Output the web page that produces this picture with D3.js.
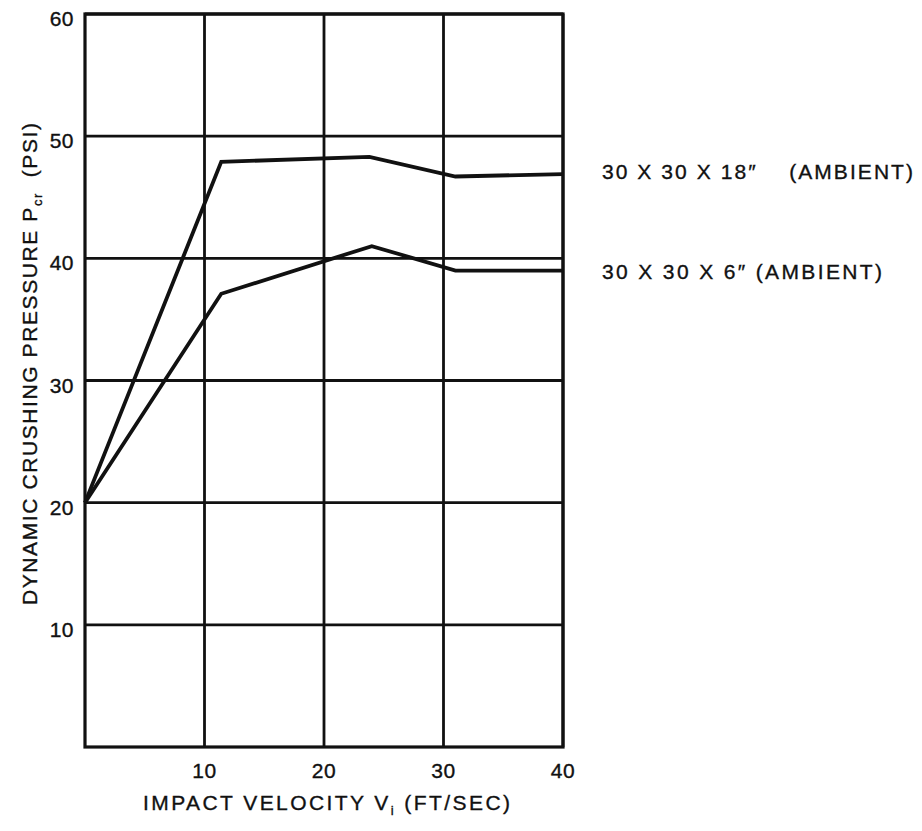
<!DOCTYPE html>
<html>
<head>
<meta charset="utf-8">
<script src="https://cdn.jsdelivr.net/npm/d3@7"></script>
<style>
  body { margin: 0; background: #fff; }
  svg text { font-family: "Liberation Sans", Arial, sans-serif; fill: #111; stroke: #111; stroke-width: 0.35px; white-space: pre; }
</style>
</head>
<body>
<div id="chart"></div>
<script>
// ============================================================
// Data
// ============================================================
const xTicks = [10, 20, 30, 40];
const yTicks = [10, 20, 30, 40, 50, 60];

const velocity18 = [0, 11.4, 23.8, 31, 40];
const pressure18 = [20, 47.9, 48.3, 46.7, 46.9];

const velocity6 = [0, 11.4, 24, 31, 40];
const pressure6 = [20, 37.1, 41.0, 39.0, 39.0];

const seriesLabels = ['30 X 30 X 18\u2033    (AMBIENT)', '30 X 30 X 6\u2033 (AMBIENT)'];
const labelWidths = [311, 280];

// ============================================================
// Layout
// ============================================================
const W = 922, H = 831;
const margin = { left: 85, top: 14, right: 359, bottom: 84 };
const innerW = W - margin.left - margin.right;
const innerH = H - margin.top - margin.bottom;

const svg = d3.select('#chart').append('svg')
    .attr('width', W).attr('height', H);
const g = svg.append('g')
    .attr('transform', `translate(${margin.left}, ${margin.top})`);

const x = d3.scaleLinear().domain([0, 40]).range([0, innerW]);
const y = d3.scaleLinear().domain([0, 60]).range([innerH, 0]);

// Grid lines
g.append('g')
    .selectAll('line')
    .data(xTicks)
    .join('line')
    .attr('x1', d => x(d)).attr('x2', d => x(d))
    .attr('y1', 0).attr('y2', innerH)
    .attr('stroke', '#111').attr('stroke-width', 2.8);

g.append('g')
    .selectAll('line')
    .data(yTicks)
    .join('line')
    .attr('x1', 0).attr('x2', innerW)
    .attr('y1', d => y(d)).attr('y2', d => y(d))
    .attr('stroke', '#111').attr('stroke-width', 2.8);

// Frame
g.append('rect')
    .attr('x', 0).attr('y', 0)
    .attr('width', innerW).attr('height', innerH)
    .attr('fill', 'none').attr('stroke', '#111').attr('stroke-width', 3.2);

// Tick labels
g.append('g')
    .selectAll('text')
    .data(xTicks)
    .join('text')
    .attr('x', d => x(d)).attr('y', innerH + 31)
    .attr('text-anchor', 'middle')
    .attr('font-size', 21)
    .attr('letter-spacing', 0.5)
    .text(d => d);

g.append('g')
    .selectAll('text')
    .data(yTicks)
    .join('text')
    .attr('x', -11).attr('y', d => y(d) + 12)
    .attr('text-anchor', 'end')
    .attr('font-size', 21)
    .attr('letter-spacing', 0.5)
    .text(d => d);

// Data lines
const line = d3.line().x(d => x(d[0])).y(d => y(d[1]));
const series = [
    d3.zip(velocity18, pressure18),
    d3.zip(velocity6, pressure6)
];
g.selectAll('path.series')
    .data(series)
    .join('path')
    .attr('class', 'series')
    .attr('d', line)
    .attr('fill', 'none')
    .attr('stroke', '#111')
    .attr('stroke-width', 3.8)
    .attr('stroke-linejoin', 'miter');

// Series labels
g.selectAll('text.lbl')
    .data(seriesLabels)
    .join('text')
    .attr('class', 'lbl')
    .attr('x', innerW + 39)
    .attr('y', (d, i) => y(i === 0 ? pressure18[4] : pressure6[4]) + (i === 0 ? 5 : 8))
    .attr('font-size', 21)
    .attr('textLength', (d, i) => labelWidths[i])
    .attr('lengthAdjust', 'spacing')
    .text(d => d);

// Axis titles
const xt = svg.append('text')
    .attr('x', 143).attr('y', 810)
    .attr('font-size', 21)
    .attr('textLength', 367)
    .attr('lengthAdjust', 'spacing');
xt.append('tspan').text('IMPACT VELOCITY V');
xt.append('tspan').attr('font-size', 13).attr('dy', 5).text('i');
xt.append('tspan').attr('dy', -5).text(' (FT/SEC)');

const yt = svg.append('text')
    .attr('transform', 'translate(37, 605) rotate(-90)')
    .attr('font-size', 21)
    .attr('textLength', 482)
    .attr('lengthAdjust', 'spacing');
yt.append('tspan').text('DYNAMIC CRUSHING PRESSURE P');
yt.append('tspan').attr('font-size', 13).attr('dy', 5).text('cr');
yt.append('tspan').attr('dy', -5).text('  (PSI)');
</script>
</body>
</html>
